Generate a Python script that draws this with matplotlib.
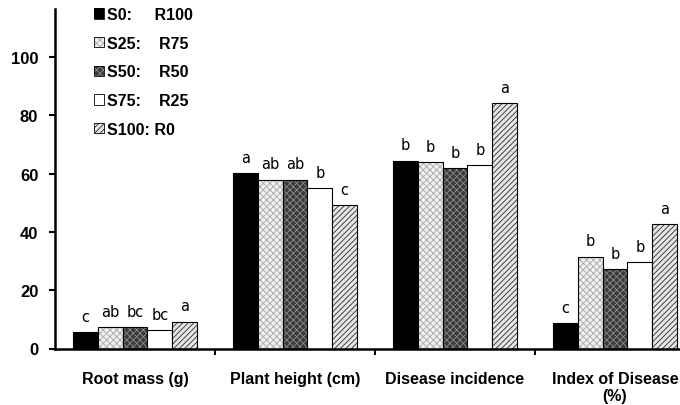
import matplotlib
matplotlib.use("Agg")
import matplotlib.pyplot as plt
import matplotlib.patches as mpatches
import numpy as np

plt.rcParams['font.family'] = ['Liberation Sans', 'DejaVu Sans']
plt.rcParams['hatch.linewidth'] = 0.6

groups = ["Root mass (g)", "Plant height (cm)", "Disease incidence", "Index of Disease\n(%)"]
series = ["S0:     R100", "S25:    R75", "S50:    R50", "S75:    R25", "S100: R0"]

s0 = [5.7, 60.1, 64.4, 8.7]
s25 = [7.4, 57.9, 63.9, 31.5]
s50 = [7.3, 57.9, 61.9, 27.3]
s75 = [6.3, 55.1, 62.9, 29.6]
s100 = [9.2, 49.2, 84.1, 42.7]
values = [s0, s25, s50, s75, s100]

letters = [["c", "a", "b", "c"],
           ["ab", "ab", "b", "b"],
           ["bc", "ab", "b", "b"],
           ["bc", "b", "b", "b"],
           ["a", "c", "a", "a"]]

# fill, hatch colour, hatch pattern for each treatment
styles = [("black", "black", None),
          ("#f0f0f0", "#a8a8a8", "xxxxx"),
          ("#3a3a3a", "#8c8c8c", "xxxxx"),
          ("white", "white", None),
          ("#e6e6e6", "#2a2a2a", "//////")]

fig = plt.figure(figsize=(6.8, 4.06), dpi=100)
ax = fig.add_axes([55 / 680, 56.5 / 406, 625 / 680, 339.5 / 406])

x = np.arange(len(groups))
w = 0.155
handles = []
for i, vals in enumerate(values):
    fc, hc, hatch = styles[i]
    pos = x + (i - 2) * w
    ax.bar(pos, vals, w, color=fc, edgecolor=hc, hatch=hatch, linewidth=0)
    ax.bar(pos, vals, w, fill=False, edgecolor="black", linewidth=0.8)
    for p, v, t in zip(pos, vals, letters[i]):
        ax.annotate(t, (p, v), xytext=(0, 6), textcoords="offset points",
                    ha="center", va="bottom", fontsize=10.5, family="DejaVu Sans")
    handles.append((mpatches.Patch(facecolor=fc, edgecolor=hc, hatch=hatch, linewidth=0),
                    mpatches.Patch(fill=False, edgecolor="black", linewidth=0.6)))

ax.set_xlim(-0.5, 3.406)
ax.set_ylim(0, 116.5)
ax.set_yticks([0, 20, 40, 60, 80, 100])
ax.set_xticks(x)
ax.set_xticklabels(groups, fontweight="bold", fontsize=11.5)
ax.set_xticks([0.5, 1.5, 2.5], minor=True)
ax.tick_params(axis="x", which="major", length=0, pad=16)
ax.tick_params(axis="x", which="minor", length=4, width=1.5, direction="out")
ax.tick_params(axis="y", length=4, width=1.5, pad=8, labelsize=12)
for lab in ax.get_yticklabels():
    lab.set_fontweight("bold")

for side in ["top", "right"]:
    ax.spines[side].set_visible(False)
ax.spines["left"].set_linewidth(1.8)
ax.spines["bottom"].set_linewidth(1.8)

leg = fig.legend(handles, series, loc="upper left", bbox_to_anchor=(94 / 680, 1 - 8 / 406),
                 frameon=False, borderpad=0, borderaxespad=0, labelspacing=0.86,
                 handlelength=0.62, handleheight=0.62, handletextpad=0.2,
                 prop={"weight": "bold", "size": 11.5})

fig.savefig("out.png", dpi=100)
